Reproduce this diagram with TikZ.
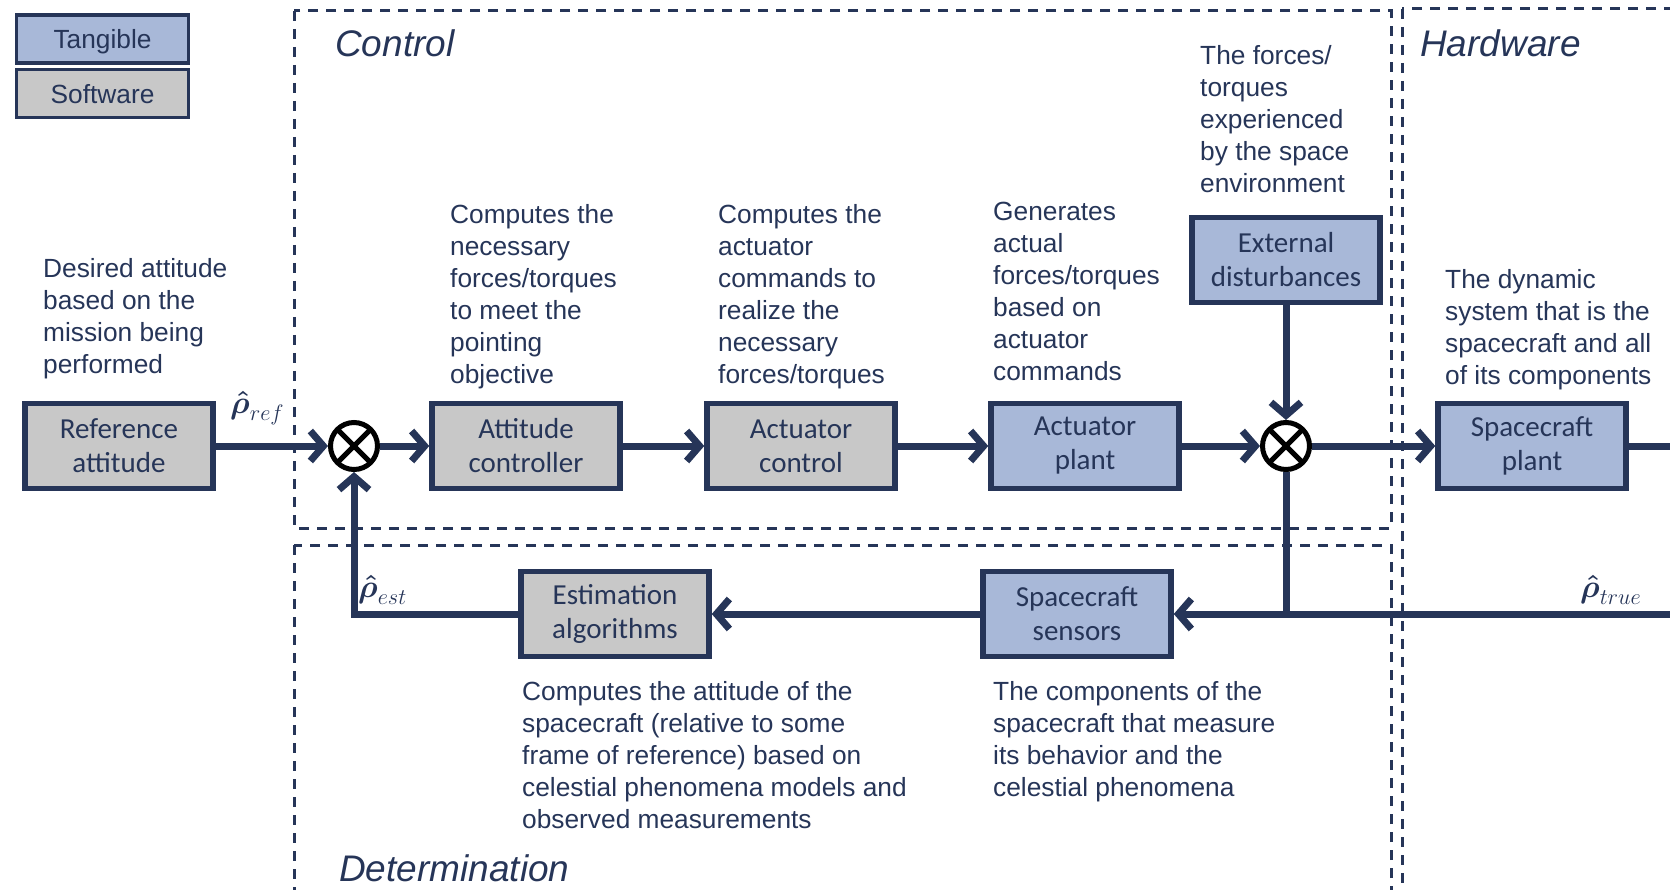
\RequirePackage{fix-cm}
\documentclass[tikz,border=0pt]{standalone}
\usepackage{fontspec}
\setmainfont{Liberation Sans}
\newfontfamily\boxfont{Carlito}
\usepackage{amsmath}
\usetikzlibrary{shapes,arrows.meta,positioning,calc}

\definecolor{navy}{RGB}{38,53,88}
\definecolor{tangible}{RGB}{168,184,216}
\definecolor{software}{RGB}{200,200,200}

\begin{document}
\begin{tikzpicture}[x=1pt, y=-1pt]
        % Define styles
        \tikzstyle{block} = [rectangle, draw=navy, line width=5.5pt, fill=software,
            minimum width=188pt, minimum height=85pt, align=center, text=navy,
            font=\boxfont\fontsize{29}{34}\selectfont]
        \tikzstyle{hardblock} = [block, fill=tangible]
        \tikzstyle{sumnode} = [circle, draw=black, line width=5pt, fill=white,
            minimum size=47pt, inner sep=0pt,
            path picture={\draw[black, line width=5pt]
                (path picture bounding box.south west) -- (path picture bounding box.north east)
                (path picture bounding box.north west) -- (path picture bounding box.south east);}]
        \tikzstyle{legend} = [rectangle, draw=navy, line width=3.5pt, minimum width=172pt,
            minimum height=48pt, text=navy, text depth=0pt,
            font=\fontsize{26.3}{32}\selectfont]
        \tikzstyle{note} = [anchor=north west, align=left, inner sep=0pt, text=navy,
            font=\fontsize{26.3}{32}\selectfont]
        \tikzstyle{region} = [draw=navy, line width=3pt, dash pattern=on 10pt off 8pt]
        \tikzstyle{title} = [anchor=west, inner sep=0pt, text=navy,
            font=\itshape\fontsize{37}{40}\selectfont]
        \tikzstyle{signal} = [anchor=west, inner sep=0pt, text=navy,
            font=\fontsize{32}{36}\selectfont]
        \tikzstyle{flowarrow} = [draw=navy, line width=7pt,
            -{Straight Barb[length=13pt,width=30pt]}]
        \tikzstyle{flowline} = [draw=navy, line width=7pt]

        \useasboundingbox (0,0) rectangle (1670,890);
        \clip (0,0) rectangle (1670,890);

        % Regions
        \draw [region] (294,11) rectangle (1391,528);
        \draw [region] (294,545) rectangle (1391,910);
        \draw [region] (1402,9) rectangle (1690,910);
        \node [title] (control) at (335,43) {Control};
        \node [title] (hardware) at (1420,43) {Hardware};
        \node [title] (determ) at (339,868) {Determination};

        % Legend
        \node [legend, fill=tangible] (legtan) at (102.5,39) {Tangible};
        \node [legend, fill=software, below=3pt of legtan] (legsoft) {Software};

        % Nodes
        \node [block] (ref) at (119,446) {Reference\\attitude};
        \node [sumnode] (sum1) at (354,446) {};
        \node [block] (att) at (526,446) {Attitude\\controller};
        \node [block] (actctl) at (801,446) {Actuator\\control};
        \node [hardblock] (actplant) at (1085,446) {Actuator\\plant};
        \node [sumnode] (sum2) at (1286,446) {};
        \node [hardblock] (dist) at (1286,260) {External\\disturbances};
        \node [hardblock] (scplant) at (1532,446) {Spacecraft\\plant};
        \node [hardblock] (sensors) at (1077,614) {Spacecraft\\sensors};
        \node [block] (estim) at (615,614) {Estimation\\algorithms};
        \coordinate (outR) at (1672,446);
        \coordinate (inR) at (1672,614);

        % Signals
        \node [signal] (rhoref) at (230,408) {$\boldsymbol{\hat{\rho}}_{ref}$};
        \node [signal] (rhoest) at (358,590) {$\boldsymbol{\hat{\rho}}_{est}$};
        \node [signal] (rhotrue) at (1580,590) {$\boldsymbol{\hat{\rho}}_{true}$};

        % Notes
        \node [note] (noteref) at (43,258) {Desired attitude\\based on the\\mission being\\performed};
        \node [note] (noteatt) at (450,204) {Computes the\\necessary\\forces/torques\\to meet the\\pointing\\objective};
        \node [note] (notectl) at (718,204) {Computes the\\actuator\\commands to\\realize the\\necessary\\forces/torques};
        \node [note] (noteplant) at (993,202) {Generates\\actual\\forces/torques\\based on\\actuator\\commands};
        \node [note] (notedist) at (1200,45) {The forces/\\torques\\experienced\\by the space\\environment};
        \node [note] (notesc) at (1445,269) {The dynamic\\system that is the\\spacecraft and all\\of its components};
        \node [note] (noteestim) at (522,681) {Computes the attitude of the\\spacecraft (relative to some\\frame of reference) based on\\celestial phenomena models and\\observed measurements};
        \node [note] (notesens) at (993,681) {The components of the\\spacecraft that measure\\its behavior and the\\celestial phenomena};

        % Arrows
        \draw [flowarrow] (ref) -- (sum1);
        \draw [flowarrow] (sum1) -- (att);
        \draw [flowarrow] (att) -- (actctl);
        \draw [flowarrow] (actctl) -- (actplant);
        \draw [flowarrow] (actplant) -- (sum2);
        \draw [flowarrow] (dist) -- (sum2);
        \draw [flowarrow] (sum2) -- (scplant);
        \draw [flowline] (scplant) -- (outR);
        \draw [flowarrow] (inR) -- (sensors);
        \draw [flowline] (sum2) -- (sum2 |- inR);
        \draw [flowarrow] (sensors) -- (estim);
        \draw [flowarrow] (estim) -| (sum1);
    \end{tikzpicture}
\end{document}
